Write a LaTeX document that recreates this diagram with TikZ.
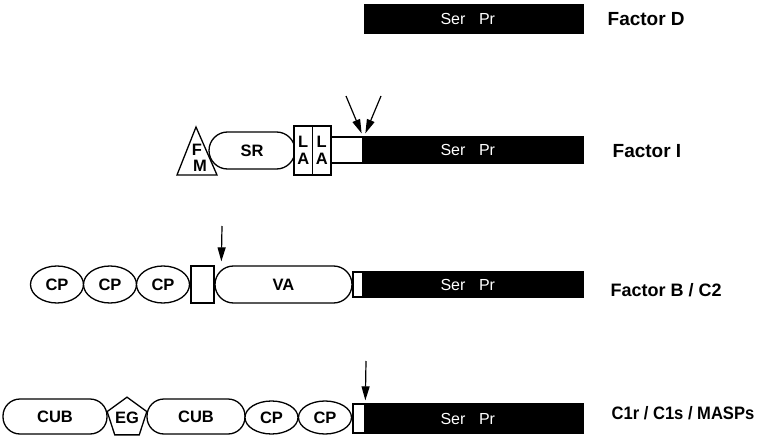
\documentclass[tikz,border=0pt]{standalone}
\usepackage{fontspec}
\setmainfont{Liberation Sans}
\newfontfamily\narrowfont[FakeStretch=0.92]{Liberation Sans}
\usetikzlibrary{shapes.geometric,arrows.meta}
\begin{document}
\begin{tikzpicture}[x=1pt,y=-1pt,line width=1.3pt,
  dom/.style={draw,fill=white,inner sep=0pt,
    font=\fontsize{16.5}{17}\selectfont\bfseries,align=center},
  cpdom/.style={dom,ellipse,minimum width=53pt,minimum height=#1},
  stadium/.style={dom,rectangle,rounded corners=#1},
  boxdom/.style={dom,rectangle},
  serpr/.style={draw,fill=black,inner sep=0pt,rectangle},
  wtext/.style={text=white,inner sep=0pt,font=\fontsize{16}{16}\selectfont},
  letter/.style={inner sep=0pt,font=\fontsize{16.5}{16.5}\selectfont\bfseries},
  protlabel/.style={anchor=base west,inner sep=0pt,font=\fontsize{19}{19}\selectfont\bfseries},
  cleave/.style={-{Triangle[length=14pt,width=8pt]},line width=1.2pt}
]
\useasboundingbox (0,0) rectangle (766,436);

% ---------- Factor D ----------
\node[serpr,minimum width=218pt,minimum height=28pt] (dbar) at (474,19) {};
\node[wtext] (dser) at (453,18.5) {Ser};
\node[wtext] (dpr) at (487,18.5) {Pr};
\node[protlabel] (dlab) at (607,26) {Factor D};

% ---------- Factor I ----------
\draw (177,175) -- (196,127) -- (217,175) -- cycle;
\node[letter] (if) at (197,150) {F};
\node[letter] (im) at (200,166) {M};
\node[stadium=18.5pt,minimum width=86pt,minimum height=37pt] (sr) at (252,150.5) {SR};
\node[boxdom,minimum width=18.5pt,minimum height=49pt] (la1) at (303.25,150.5) {L\\A};
\node[boxdom,minimum width=18.5pt,minimum height=49pt] (la2) at (321.75,150.5) {L\\A};
\node[boxdom,minimum width=32pt,minimum height=26pt] (iopen) at (347,150) {};
\node[serpr,minimum width=220pt,minimum height=26pt] (ibar) at (473,150) {};
\node[wtext] (iser) at (453,150) {Ser};
\node[wtext] (ipr) at (487,150) {Pr};
\node[protlabel] (ilab) at (612,157) {Factor I};
\coordinate (it1) at (346,96);
\coordinate (it2) at (381,96);
\coordinate (ih1) at ([xshift=-2pt,yshift=3pt]iopen.north east);
\coordinate (ih2) at ([xshift=3pt,yshift=3pt]ibar.north west);
\draw[cleave] (it1) -- (ih1);
\draw[cleave] (it2) -- (ih2);

% ---------- Factor B / C2 ----------
\node[cpdom=37pt] (bcp1) at (57,284.5) {CP};
\node[cpdom=37pt] (bcp2) at (110,284.5) {CP};
\node[cpdom=37pt] (bcp3) at (163,284.5) {CP};
\node[boxdom,minimum width=23pt,minimum height=37pt] (bbox) at (202.5,284.5) {};
\node[stadium=18.5pt,minimum width=137pt,minimum height=37pt] (va) at (283.5,284.5) {VA};
\node[boxdom,minimum width=10pt,minimum height=25pt] (bopen) at (358,284.5) {};
\node[serpr,minimum width=220pt,minimum height=25pt] (bbar) at (473,284.5) {};
\node[wtext] (bser) at (453,284.5) {Ser};
\node[wtext] (bpr) at (487,284.5) {Pr};
\node[protlabel,font=\fontsize{18}{18}\selectfont\bfseries] (blab) at (610,296) {Factor B / C2};
\coordinate (bt) at (222,226);
\coordinate (bh) at ([xshift=7pt,yshift=4pt]va.north west);
\draw[cleave] (bt) -- (bh);

% ---------- C1r / C1s / MASPs ----------
\node[stadium=17pt,minimum width=104pt,minimum height=35pt] (cub1) at (55,416.5) {CUB};
\node[dom,regular polygon,regular polygon sides=5,minimum size=41pt] (eg) at (127,418) {EG};
\node[stadium=17pt,minimum width=98pt,minimum height=35pt] (cub2) at (196,416.5) {CUB};
\node[cpdom=33pt] (ccp1) at (271.5,417.5) {CP};
\node[cpdom=33pt] (ccp2) at (325,417.5) {CP};
\node[boxdom,minimum width=12pt,minimum height=29pt] (copen) at (359,418.5) {};
\node[serpr,minimum width=218pt,minimum height=29pt] (cbar) at (474,418.5) {};
\node[wtext] (cser) at (453,418.5) {Ser};
\node[wtext] (cpr) at (487,418.5) {Pr};
\node[protlabel,font=\narrowfont\fontsize{18}{18}\selectfont\bfseries] (clab) at (611,419) {C1r / C1s / MASPs};
\coordinate (ct) at (366,361);
\coordinate (ch) at ([xshift=1pt,yshift=3pt]cbar.north west);
\draw[cleave] (ct) -- (ch);
\end{tikzpicture}
\end{document}
